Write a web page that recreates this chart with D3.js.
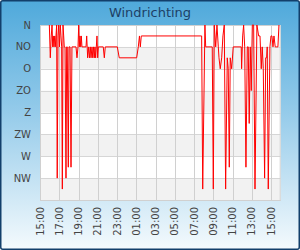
<!DOCTYPE html>
<html>
<head>
<meta charset="utf-8">
<script src="https://cdn.jsdelivr.net/npm/d3@7"></script>
<style>
  html, body { margin: 0; padding: 0; background: #fff; }
  svg { display: block; }
</style>
</head>
<body>
<script>
// Hours after 15:00 (day 1) and wind direction in degrees
const hours = [
  0.97, 1.07, 1.17, 1.25, 1.32, 1.38, 1.45, 1.53, 1.59, 1.66, 1.73, 1.79, 1.87, 1.94, 2.02,
  2.11, 2.18, 2.25, 2.32, 2.39, 2.46, 2.52, 2.60, 2.70, 2.77, 2.83, 2.94, 3.01, 3.12, 3.22,
  3.32, 3.74, 3.84, 3.95, 4.02, 4.08, 4.15, 4.23, 4.29, 4.36, 4.78, 4.85, 4.95, 5.06, 5.14,
  5.23, 5.30, 5.40, 5.48, 5.56, 5.64, 5.71, 5.78, 5.85, 5.92, 5.99, 6.06, 6.57, 6.68, 6.78,
  8.03, 8.23, 10.04, 10.21, 10.33, 10.42, 10.52, 16.79, 16.90, 17.13, 17.21, 17.89, 18.00,
  18.10, 18.25, 18.38, 18.52, 18.59, 18.72, 18.87, 19.00, 19.14, 19.28, 19.45, 19.55, 19.66,
  19.76, 19.91, 20.07, 20.90, 20.94, 21.05, 21.15, 21.26, 21.39, 21.53, 21.63, 21.73, 21.84,
  21.94, 22.05, 22.19, 22.33, 22.53, 22.71, 22.85, 22.98, 23.08, 23.19, 23.33, 23.44, 23.54,
  23.60, 23.71, 23.88, 23.99, 24.09, 24.20, 24.30, 24.43, 24.54, 24.71, 24.82
];
const directions = [
  0, 67.5, 22.5, 0, 45, 22.5, 45, 22.5, 45, 22.5, 0, 315, 22.5, 0, 45,
  0, 22.5, 45, 337.5, 0, 22.5, 45, 45, 315, 45, 45, 292.5, 45, 45, 292.5,
  45, 45, 67.5, 45, 0, 45, 22.5, 45, 22.5, 45, 45, 22.5, 67.5, 45, 67.5,
  45, 67.5, 45, 67.5, 45, 67.5, 45, 67.5, 45, 22.5, 67.5, 45, 45, 67.5, 45,
  45, 67.5, 67.5, 45, 22.5, 45, 22.5, 22.5, 337.5, 0, 45, 45, 337.5,
  0, 45, 0, 45, 67.5, 90, 67.5, 22.5, 0, 337.5, 67.5, 90, 292.5,
  67.5, 90, 45, 45, 90, 22.5, 0, 45, 292.5, 45, 45, 202.5, 45,
  135, 0, 0, 337.5, 0, 22.5, 22.5, 90, 45, 90, 315, 67.5, 67.5,
  45, 337.5, 45, 22.5, 22.5, 45, 22.5, 45, 45, 45, 0
];
const dirLabels = ["N", "NO", "O", "ZO", "Z", "ZW", "W", "NW"];
const dirValues = [0, 45, 90, 135, 180, 225, 270, 315];
const tickLabels = ["15:00", "17:00", "19:00", "21:00", "23:00", "01:00", "03:00",
  "05:00", "07:00", "09:00", "11:00", "13:00", "15:00"];
const title = "Windrichting";
const startTime = new Date(2024, 0, 1, 15, 0);
const endTime = new Date(2024, 0, 2, 16, 0);

const W = 300, H = 250;
const m = { left: 40, top: 25, right: 19.3, bottom: 50 };
const svg = d3.select("body").append("svg").attr("width", W).attr("height", H);
const defs = svg.append("defs");
const grad = defs.append("linearGradient").attr("id", "bg").attr("x1", 0).attr("y1", 0).attr("x2", 0).attr("y2", 1);
grad.append("stop").attr("offset", "0%").attr("stop-color", "#4fa9db");
grad.append("stop").attr("offset", "45%").attr("stop-color", "#95cbea");
grad.append("stop").attr("offset", "100%").attr("stop-color", "#f4fafd");

svg.append("rect").attr("x", 0.75).attr("y", 0.75).attr("width", W - 1.5).attr("height", H - 1.5)
  .attr("rx", 2).attr("fill", "url(#bg)").attr("stroke", "#123f6b").attr("stroke-width", 1.5);

svg.append("text").attr("x", 150).attr("y", 16.5).attr("text-anchor", "middle")
  .attr("font-family", "DejaVu Sans").attr("font-size", 13).attr("fill", "#1d3f66").text(title);

const x = d3.scaleTime().domain([startTime, endTime]).range([m.left, W - m.right]);
const y = d3.scaleLinear().domain([0, 360]).range([m.top, H - m.bottom]);

const g = svg.append("g");
g.append("rect").attr("x", m.left).attr("y", m.top).attr("width", W - m.right - m.left)
  .attr("height", H - m.bottom - m.top).attr("fill", "#fff");

// alternating bands
dirValues.forEach((v, i) => {
  if (i % 2 === 1) {
    g.append("rect").attr("x", m.left).attr("y", y(v)).attr("width", W - m.right - m.left)
      .attr("height", y(v + 45) - y(v)).attr("fill", "#f2f2f2");
  }
});

// horizontal grid
g.selectAll(".hg").data(dirValues.concat([360])).enter().append("line")
  .attr("x1", m.left).attr("x2", W - m.right)
  .attr("y1", d => Math.round(y(d)) + 0.5).attr("y2", d => Math.round(y(d)) + 0.5)
  .attr("stroke", "#d6d6d6").attr("stroke-width", 1);

const ticks = tickLabels.map((_, i) => d3.timeHour.offset(startTime, i * 2));
g.selectAll(".vg").data(ticks).enter().append("line")
  .attr("x1", d => Math.round(x(d)) + 0.5).attr("x2", d => Math.round(x(d)) + 0.5)
  .attr("y1", m.top).attr("y2", H - m.bottom)
  .attr("stroke", "#d0d0d0").attr("stroke-width", 1);

g.append("rect").attr("x", m.left + 0.5).attr("y", m.top + 0.5)
  .attr("width", W - m.right - m.left - 1).attr("height", H - m.bottom - m.top)
  .attr("fill", "none").attr("stroke", "#d0d0d0");

// y labels
g.selectAll(".yl").data(dirValues).enter().append("text")
  .attr("x", 31).attr("y", d => y(d)).attr("dy", "0.35em").attr("text-anchor", "end")
  .attr("font-family", "DejaVu Sans").attr("font-size", 10).attr("fill", "#444")
  .text((d, i) => dirLabels[i]);

// x labels
g.selectAll(".xl").data(ticks).enter().append("text")
  .attr("transform", d => `translate(${x(d)},207) rotate(-90)`)
  .attr("dy", "0.35em").attr("text-anchor", "end")
  .attr("font-family", "DejaVu Sans").attr("font-size", 10).attr("fill", "#444")
  .text((d, i) => tickLabels[i]);

// line
const pts = hours.map((h, i) => ({ t: new Date(startTime.getTime() + h * 3600000), v: directions[i] }));
const line = d3.line().x(d => x(d.t)).y(d => y(d.v));
g.append("path").datum(pts).attr("d", line).attr("fill", "none")
  .attr("stroke", "#ff0000").attr("stroke-width", 1).attr("stroke-linejoin", "round");
</script>
</body>
</html>
